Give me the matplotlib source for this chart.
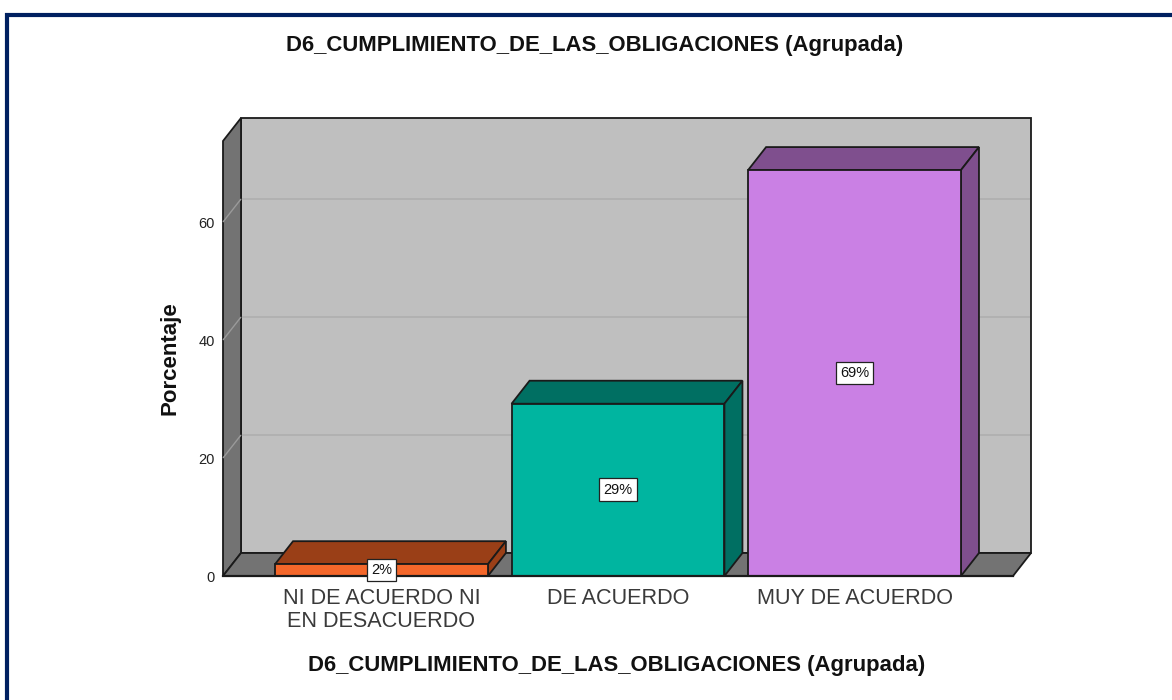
import matplotlib
matplotlib.use("Agg")
import matplotlib.pyplot as plt
from matplotlib.patches import Polygon, Rectangle

plt.rcParams['font.family'] = ['Liberation Sans', 'DejaVu Sans']

title = "D6_CUMPLIMIENTO_DE_LAS_OBLIGACIONES (Agrupada)"
ylabel = "Porcentaje"
categories = ["NI DE ACUERDO NI\nEN DESACUERDO", "DE ACUERDO", "MUY DE ACUERDO"]
values = [2.0, 29.2, 68.8]
value_labels = ["2%", "29%", "69%"]
yticks = [0, 20, 40, 60]
front_colors = ["#F4672A", "#00B5A0", "#CA80E4"]
top_colors = ["#9A3F17", "#006F62", "#7F4F8E"]

W, H = 1172, 700
fig = plt.figure(figsize=(W / 100, H / 100), dpi=100, facecolor="white")

# Page frame (figure pixels)
bg = fig.add_axes([0, 0, 1, 1])
bg.set_xlim(0, W); bg.set_ylim(H, 0); bg.axis("off")
bg.plot([7, 7, W + 5], [H + 5, 14.5, 14.5], color="#002060", lw=3.0, solid_joinstyle="miter", clip_on=False)

L, R, B, T = 223, 1013, 576, 141
ax = fig.add_axes([L / W, 1 - B / H, (R - L) / W, (B - T) / H])
ax.patch.set_visible(False)
px_x = 236.5
px_y = 5.9
xlim = (-0.67, 2.67)
ymax = (B - T) / px_y
ax.set_xlim(*xlim)
ax.set_ylim(0, ymax)
dx = 18 / px_x
dy = 23 / px_y
EC = "#1A1A1A"
LW = 1.3
x0, x1 = xlim

def poly(pts, fc, z, lw=LW, ec=EC):
    ax.add_patch(Polygon(pts, closed=True, fc=fc, ec=ec, lw=lw, zorder=z, clip_on=False, joinstyle="miter"))

# Walls
poly([(x0 + dx, dy), (x1 + dx, dy), (x1 + dx, ymax + dy), (x0 + dx, ymax + dy)], "#BFBFBF", 1)
poly([(x0, 0), (x0 + dx, dy), (x0 + dx, ymax + dy), (x0, ymax)], "#737373", 2)
poly([(x0, 0), (x1, 0), (x1 + dx, dy), (x0 + dx, dy)], "#737373", 2)

# Gridlines on the walls
for t in yticks[1:]:
    ax.plot([x0 + dx, x1 + dx - 0.004], [t + dy, t + dy], color="#B0B0B0", lw=1.3, zorder=1.5,
            clip_on=False, solid_capstyle="butt")
    ax.plot([x0, x0 + dx], [t, t + dy], color="#9A9A9A", lw=1.0, zorder=3, clip_on=False,
            solid_capstyle="butt")

# Bars
width = 0.9
for i, (v, fc, tc) in enumerate(zip(values, front_colors, top_colors)):
    a, b = i - width / 2, i + width / 2
    poly([(a, v), (b, v), (b + dx, v + dy), (a + dx, v + dy)], tc, 4 + i)
    poly([(b, 0), (b + dx, dy), (b + dx, v + dy), (b, v)], tc, 4 + i)
    ax.add_patch(Rectangle((a, 0), width, v, fc=fc, ec=EC, lw=LW, zorder=4.5 + i, clip_on=False))

# Front bottom line
ax.plot([x0, x1], [0, 0], color=EC, lw=1.6, zorder=8, clip_on=False)

# Value labels
for i, (v, s) in enumerate(zip(values, value_labels)):
    ax.text(i, v / 2, s, ha="center", va="center", fontsize=10.5, color="#111111", zorder=10,
            bbox=dict(boxstyle="square,pad=0.3", fc="white", ec="#222222", lw=0.9), clip_on=False)

for s in ax.spines.values():
    s.set_visible(False)
ax.set_xticks(range(len(categories)))
ax.set_xticklabels(categories, fontsize=15.6, color="#3A3A3A", linespacing=1.08)
ax.set_yticks(yticks)
ax.set_yticklabels([str(t) for t in yticks], fontsize=10.5, color="#222222")
ax.tick_params(axis="both", length=0, pad=6)
ax.tick_params(axis="x", pad=9)

bg.text(595, 46, title, ha="center", va="center", fontsize=15.9, fontweight="bold", color="#111111")
bg.text(617, 666, title, ha="center", va="center", fontsize=15.9, fontweight="bold", color="#111111")
bg.text(169.5, 358, ylabel, ha="center", va="center", rotation=90, fontsize=16, fontweight="bold", color="#111111")

fig.savefig("out.png", dpi=100, facecolor="white")
